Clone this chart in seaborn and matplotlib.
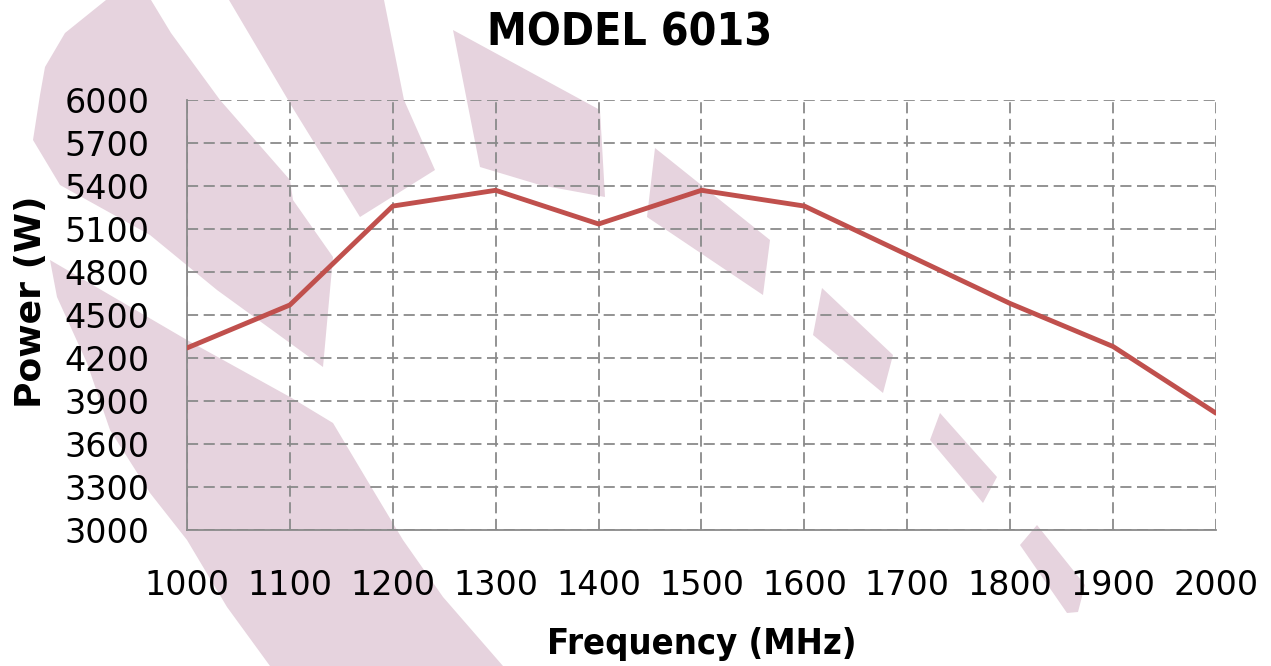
import matplotlib
matplotlib.use('Agg')
import matplotlib.pyplot as plt
from matplotlib.patches import Polygon
import seaborn as sns
import pandas as pd

# chart data
freq_mhz = [1000, 1100, 1200, 1300, 1400, 1500, 1600, 1700, 1800, 1900, 2000]
power_w = [4270, 4570, 5260, 5370, 5135, 5370, 5260, 4920, 4580, 4280, 3815]
y_ticks = [3000, 3300, 3600, 3900, 4200, 4500, 4800, 5100, 5400, 5700, 6000]
title = 'MODEL 6013'
x_label = 'Frequency (MHz)'
y_label = 'Power (W)'

# background watermark shapes (decoration only, in image pixels)
WATERMARK = [
    [(106, 0), (151, 0), (171, 33), (220, 100), (290, 180), (293, 200), (333, 257),
     (323, 367), (217, 290), (150, 235), (60, 185), (33, 140), (40, 95), (45, 67), (65, 33)],
    [(229, 0), (384, 0), (404, 100), (435, 170), (360, 217), (294, 110)],
    [(453, 30), (600, 110), (605, 197), (540, 185), (480, 167)],
    [(655, 148), (770, 240), (763, 295), (647, 217)],
    [(822, 288), (893, 355), (883, 393), (813, 335)],
    [(940, 413), (997, 477), (983, 503), (930, 440)],
    [(1037, 525), (1085, 585), (1078, 612), (1067, 613), (1020, 545)],
    [(50, 260), (187, 340), (290, 397), (333, 423), (367, 480), (403, 540), (443, 597),
     (503, 666), (270, 666), (227, 607), (187, 540), (150, 493), (110, 430), (87, 363), (57, 297)],
]
W, H = 1271, 666

df = pd.DataFrame({'freq': freq_mhz, 'power': power_w})

sns.set_style('white')
plt.rcParams['lines.scale_dashes'] = False
plt.rcParams['text.color'] = 'black'

fig = plt.figure(figsize=(12.71, 6.66), dpi=100)
for shape in WATERMARK:
    pts = [(x / W, 1 - y / H) for x, y in shape]
    fig.patches.append(Polygon(pts, closed=True, transform=fig.transFigure,
                               facecolor='#E6D3DE', edgecolor='none', zorder=-5))

ax = fig.add_axes([187 / W, 1 - 530 / H, (1216 - 187) / W, (530 - 100) / H])
ax.set_facecolor('none')
ax.set_zorder(2)

grid_col = '#8A8A8A'
sns.lineplot(data=df, x='freq', y='power', ax=ax, color='#C0504D', linewidth=3.5, zorder=3)

ax.set_xlim(1000, 2000)
ax.set_ylim(3000, 6000)
ax.set_xticks(freq_mhz)
ax.set_yticks(y_ticks)
ax.grid(True, color=grid_col, linestyle=(0, (8, 4)), linewidth=1.3)
ax.set_axisbelow(True)

for s in ['top', 'right']:
    ax.spines[s].set_visible(False)
for s in ['left', 'bottom']:
    ax.spines[s].set_color(grid_col)
    ax.spines[s].set_linewidth(1.3)

ax.tick_params(axis='both', direction='out', length=9, width=1.3, color=grid_col,
               labelsize=24, labelcolor='black')
ax.tick_params(axis='y', pad=18)
ax.tick_params(axis='x', pad=19)
for lab in ax.get_xticklabels() + ax.get_yticklabels():
    lab.set_family('DejaVu Sans')

ax.set_xlabel(x_label, fontsize=26, fontweight='bold', fontstretch='condensed',
              family='DejaVu Sans', color='black')
ax.xaxis.set_label_coords(0.5, -0.225)
ax.set_ylabel(y_label, fontsize=26, fontweight='bold', family='DejaVu Sans', color='black')
ax.yaxis.set_label_coords(-0.135, 0.53)

fig.text(630 / W, 1 - 45 / H, title, ha='center', va='baseline', fontsize=32,
         fontweight='bold', fontstretch='condensed', family='DejaVu Sans', color='black')

fig.savefig('out.png', dpi=100)
plt.close(fig)
